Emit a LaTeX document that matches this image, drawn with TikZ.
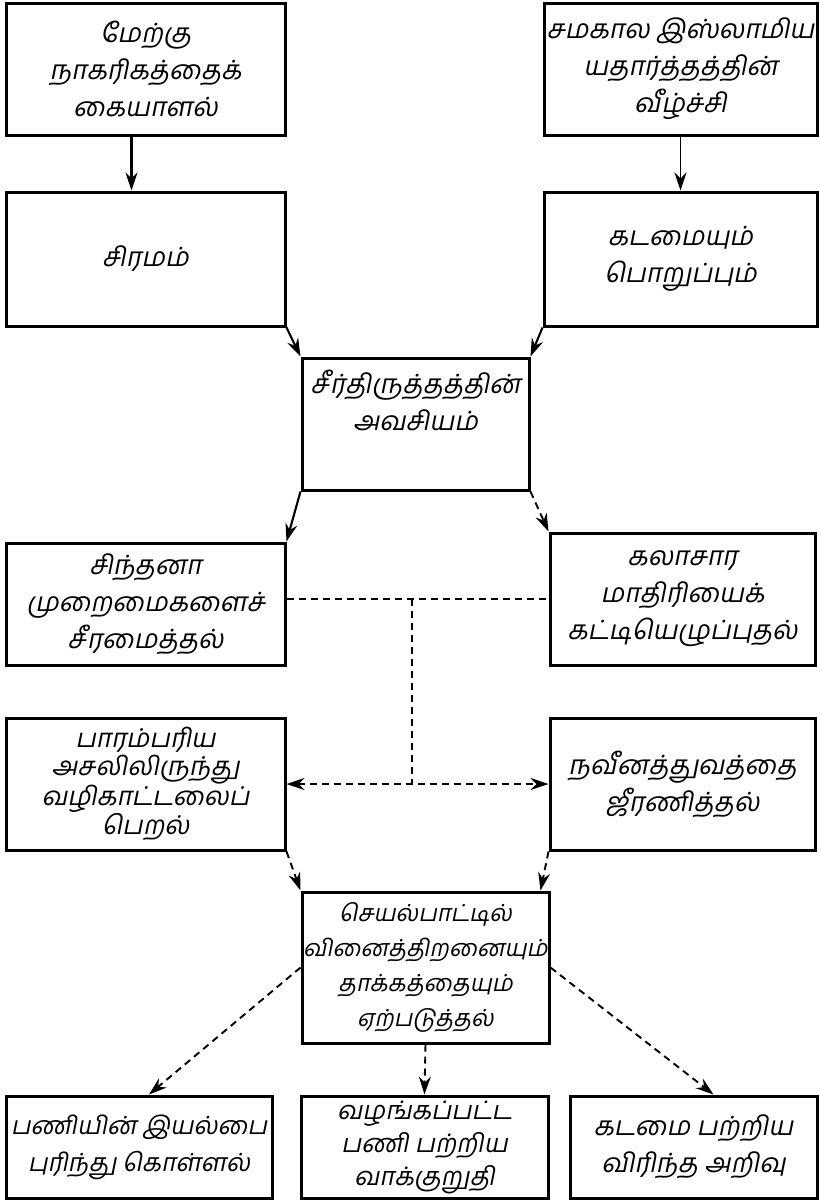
\documentclass[tikz,border=0pt]{standalone}
\usepackage{fontspec}
\newfontfamily\tamil[Script=Tamil,FakeSlant=0.2]{Hind Madurai}
\usetikzlibrary{arrows.meta,positioning}
\begin{document}
\begin{tikzpicture}[x=1pt,y=-1pt,font=\tamil\fontsize{26.5}{37}\selectfont,
  box/.style={draw,line width=3pt,align=center,inner sep=0pt},
  >={Stealth[length=18pt,width=12pt,inset=6pt]},
  dsh/.style={line width=1.9pt,dash pattern=on 7pt off 5pt}]

\useasboundingbox (0,0) rectangle (820,1200);

% top row
\node [box,minimum width=279pt,minimum height=132pt](A) at (145.5,69) {மேற்கு\\நாகரிகத்தைக்\\கையாளல்};
\node [box,minimum width=273pt,minimum height=132pt](B) at (680.5,69) {சமகால இஸ்லாமிய\\யதார்த்தத்தின்\\வீழ்ச்சி};
\node [box,minimum width=279pt,minimum height=134pt](C) at (145.5,259) {சிரமம்};
\node [box,minimum width=273pt,minimum height=134pt](D) at (680.5,259) {கடமையும்\\பொறுப்பும்};
\node [box,minimum width=227pt,minimum height=132pt](E) at (415.5,424) {சீர்திருத்தத்தின்\\அவசியம்\\[10pt]};

% middle
\node [box,minimum width=279pt,minimum height=122pt](F) at (145.5,604) {சிந்தனா\\முறைமைகளைச்\\சீரமைத்தல்};
\node [box,minimum width=265pt,minimum height=132pt](G) at (682.5,599) {கலாசார\\மாதிரியைக்\\கட்டியெழுப்புதல்};
\node [box,minimum width=279pt,minimum height=132pt,font=\tamil\fontsize{26}{28}\selectfont](H) at (145.5,784) {பாரம்பரிய\\அசலிலிருந்து\\வழிகாட்டலைப்\\பெறல்};
\node [box,minimum width=265pt,minimum height=132pt](I) at (682.5,784) {நவீனத்துவத்தை\\ஜீரணித்தல்};
\node [box,minimum width=247pt,minimum height=151pt,font=\tamil\fontsize{23.5}{35}\selectfont](J) at (425.5,967.5) {செயல்பாட்டில்\\வினைத்திறனையும்\\தாக்கத்தையும்\\ஏற்படுத்தல்};

% bottom row
\node [box,minimum width=266pt,minimum height=102pt,font=\tamil\fontsize{25}{37}\selectfont](K) at (139,1147) {பணியின் இயல்பை\\புரிந்து கொள்ளல்};
\node [box,minimum width=247pt,minimum height=102pt,font=\tamil\fontsize{25.5}{33}\selectfont](L) at (424.5,1147) {வழங்கப்பட்ட\\பணி பற்றிய\\வாக்குறுதி};
\node [box,minimum width=247pt,minimum height=102pt](M) at (693.5,1147) {கடமை பற்றிய\\விரிந்த அறிவு};

\begin{scope}[->,line width=2.1pt]
\draw ([xshift=-14pt]A.south) -- ([xshift=-14pt]C.north);
\draw[line width=1.5pt] (B.south) -- (D.north);
\draw (C.south east) -- (E.north west);
\draw (D.south west) -- (E.north east);
\draw (E.south west) -- (F.north east);
\end{scope}

\begin{scope}[dsh]
\draw[->] (E.south east) -- (G.north west);
\coordinate (fg) at (412,599);
\draw (F.east |- fg) -- (G.west |- fg);
\draw (fg) -- (fg |- H.east);
\draw[<->] (H.east) -- (I.west);
\draw[->] (H.south east) -- (J.north west);
\draw[->] (I.south west) -- ([xshift=-10pt]J.north east);
\draw[->] (J.west) -- ([xshift=10pt]K.north);
\draw[->] (J.south) -- (L.north);
\draw[->] (J.east) -- ([xshift=20pt]M.north);
\end{scope}

\end{tikzpicture}
\end{document}
